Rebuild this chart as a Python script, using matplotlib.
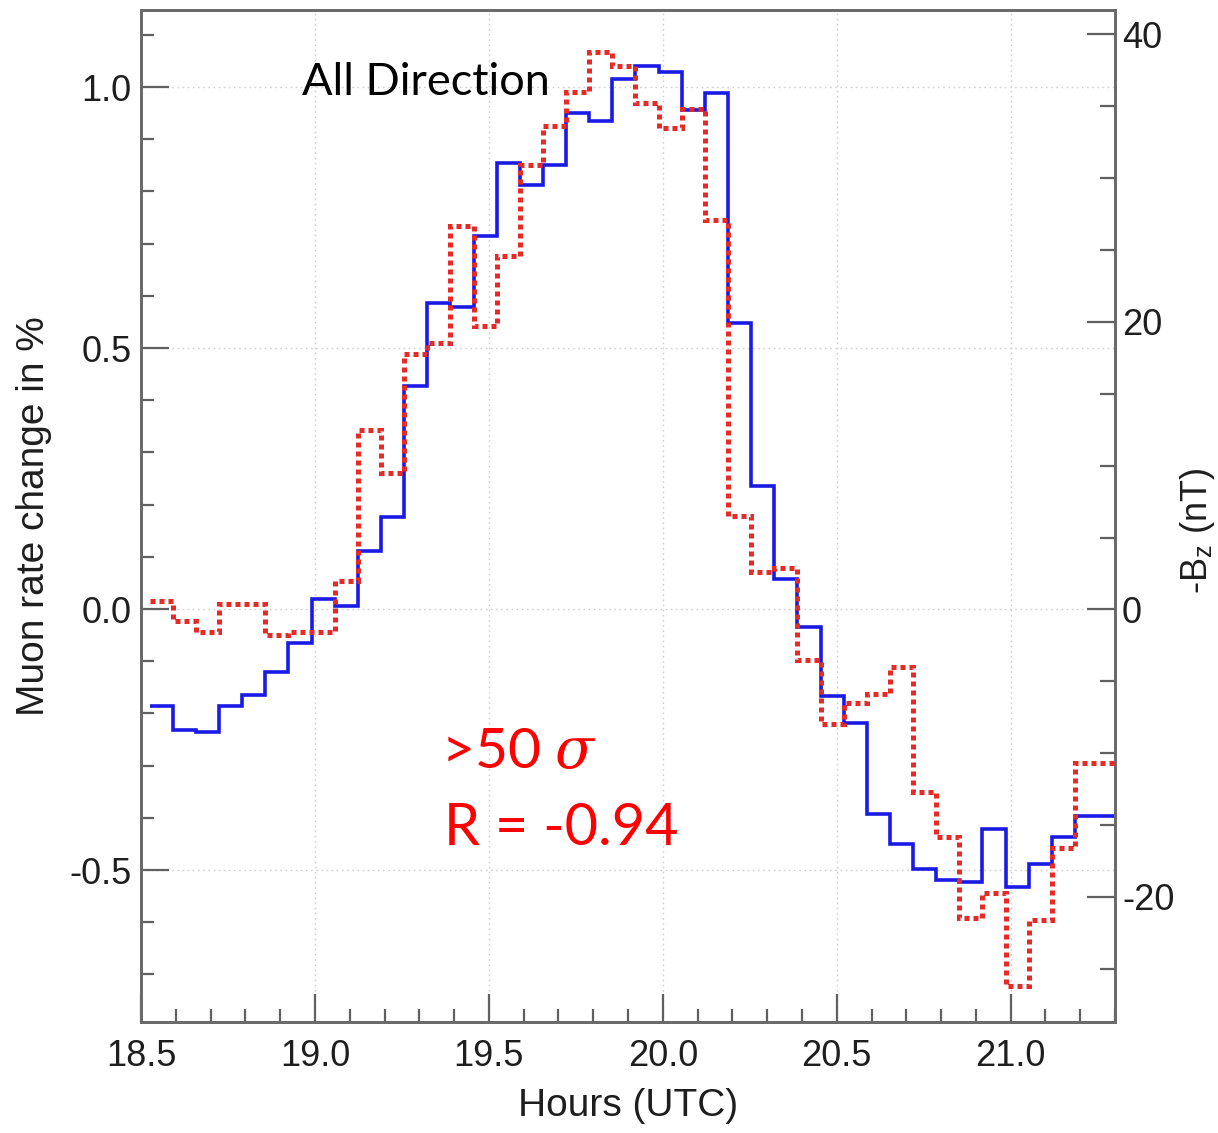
import numpy as np
import matplotlib.pyplot as plt
from matplotlib.ticker import MultipleLocator

plt.rcParams['font.family'] = ['Liberation Sans', 'DejaVu Sans']
plt.rcParams['axes.unicode_minus'] = False
plt.rcParams['mathtext.fontset'] = 'dejavuserif'

# 4-minute bins starting just after 18:31 UTC
bin_start = 18.525
bin_width = 0.0665

# muon rate change (%), all directions
muon_rate = [-0.186, -0.232, -0.235, -0.186, -0.165, -0.121, -0.065, 0.019,
             0.005, 0.112, 0.176, 0.428, 0.586, 0.579, 0.715, 0.855,
             0.812, 0.851, 0.950, 0.935, 1.015, 1.040, 1.028, 0.956,
             0.988, 0.548, 0.235, 0.057, -0.034, -0.166, -0.218, -0.393,
             -0.450, -0.498, -0.519, -0.522, -0.421, -0.532, -0.489, -0.437,
             -0.396, -0.396]

# -Bz of the interplanetary field (nT)
neg_bz = [0.6, -0.8, -1.6, 0.4, 0.4, -1.8, -1.6, -1.6,
          2.0, 12.5, 9.5, 17.8, 18.5, 26.7, 19.7, 24.6,
          30.9, 33.6, 36.0, 38.8, 37.8, 35.2, 33.5, 34.8,
          27.1, 6.5, 2.6, 2.9, -3.5, -8.0, -6.5, -5.9,
          -4.0, -12.7, -15.8, -21.5, -19.7, -26.2, -21.6, -16.6,
          -10.7, -10.7]

edges = bin_start + bin_width * np.arange(len(muon_rate) + 1)

W, H = 1218, 1133
fig = plt.figure(figsize=(W / 100, H / 100), dpi=100)
ax = fig.add_axes([141 / W, (H - 1022) / H, (1115 - 141) / W, (1022 - 10) / H])
ax2 = ax.twinx()

ax.stairs(muon_rate, edges, baseline=None, color='#1a1ae6', lw=2.6, zorder=3)
ax2.stairs(neg_bz, edges, baseline=None, color='#e62a25', lw=3.6,
           linestyle=(0, (1, 0.8)), zorder=3)

ax.set_xlim(18.5, 21.3)
ax.set_ylim(-0.791, 1.1475)
ax2.set_ylim(-28.7, 41.7)

ax.xaxis.set_major_locator(MultipleLocator(0.5))
ax.xaxis.set_minor_locator(MultipleLocator(0.1))
ax.yaxis.set_major_locator(MultipleLocator(0.5))
ax.yaxis.set_minor_locator(MultipleLocator(0.1))
ax2.yaxis.set_major_locator(MultipleLocator(20))
ax2.yaxis.set_minor_locator(MultipleLocator(5))
ax.xaxis.set_major_formatter(lambda v, p: f"{v:.1f}")
ax.yaxis.set_major_formatter(lambda v, p: f"{v:.1f}")
ax2.yaxis.set_major_formatter(lambda v, p: f"{v:.0f}")

ax.grid(True, which='major', color='#d0d0d0', linestyle=(0, (1.2, 2.5)), lw=1.0)
ax.set_axisbelow(True)

for a in (ax, ax2):
    for s in a.spines.values():
        s.set_color('#6a6a6a')
        s.set_linewidth(2.0)
    a.set_facecolor('none')

tick_kw = dict(direction='in', color='#606060', width=1.6, labelsize=26,
               labelcolor='#1e1e1e')
minor_kw = dict(direction='in', color='#606060', width=1.6)
ax.tick_params(axis='x', which='major', length=20, pad=12, top=False, **tick_kw)
ax.tick_params(axis='x', which='minor', length=9.5, top=False, **minor_kw)
ax.tick_params(axis='y', which='major', length=20, pad=7, right=False, **tick_kw)
ax.tick_params(axis='y', which='minor', length=9.5, right=False, **minor_kw)
ax2.tick_params(axis='y', which='major', length=20, pad=5, **tick_kw)
ax2.tick_params(axis='y', which='minor', length=11, **minor_kw)

ax.set_xlabel('Hours (UTC)', fontsize=28, color='#1e1e1e', labelpad=10)
ax.set_ylabel('Muon rate change in %', fontsize=28, color='#1e1e1e')
ax.yaxis.set_label_coords((52 - 141) / 974, 0.5)
ax2.set_ylabel(r'-B$_\mathregular{z}$ (nT)', fontsize=26, color='#1e1e1e')
ax2.yaxis.set_label_coords((1178 - 141) / 974, 0.485)

fig.text(302 / W, 1 - 95 / H, 'All Direction', family=['Lato', 'DejaVu Sans'],
         fontsize=32.5, color='black', va='baseline')
fig.text(441 / W, 1 - 768 / H, r'>50 $\sigma$', family=['Lato', 'DejaVu Sans'],
         fontsize=41, color='#ff0000', va='baseline')
fig.text(444 / W, 1 - 845 / H, 'R = -0.94', family=['Lato', 'DejaVu Sans'],
         fontsize=41.5, color='#ff0000', va='baseline')

fig.savefig('out.png', dpi=100)
